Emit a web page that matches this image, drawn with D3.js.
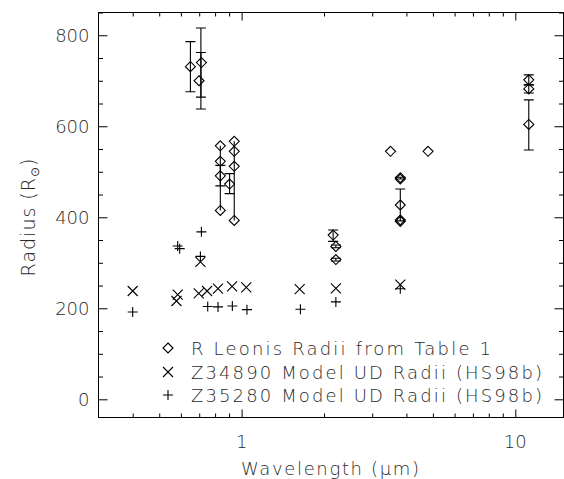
<!DOCTYPE html>
<html>
<head>
<meta charset="utf-8">
<script src="https://cdn.jsdelivr.net/npm/d3@7"></script>
<style>
  html, body { margin: 0; padding: 0; background: #fff; }
  svg { display: block; }
  text { font-family: "DejaVu Sans", sans-serif; font-weight: 300; fill: #2a2a2a; }
</style>
</head>
<body>
<svg width="564" height="479"></svg>
<script>
// R Leonis radii (Table 1): wavelength [um], radius [Rsun]
const leoWave   = [0.65, 0.713, 0.699, 0.836, 0.836, 0.836, 0.836, 0.904, 0.94, 0.94, 0.94, 0.94,
                   2.16, 2.21, 2.21, 3.50, 3.80, 3.80, 3.80, 3.80, 3.80, 4.80, 11.2, 11.2, 11.2];
const leoRadius = [731, 740, 700, 557, 523, 491, 415, 473, 567, 545, 512, 393,
                   361, 336, 307, 545, 487, 484, 427, 394, 391, 545, 702, 682, 604];

// error bars: wavelength, low, high
const errWave = [0.65, 0.71, 0.71, 0.836, 0.904, 2.16, 2.21, 2.21, 3.80, 3.80, 11.2, 11.2, 11.2];
const errLow  = [676, 664, 638, 469, 452, 347, 333, 304, 392, 484, 691, 673, 548];
const errHigh = [786, 816, 762, 514, 496, 372, 339, 310, 462, 488, 713, 691, 658];

// range lines (no caps) spanning several measurements
const rangeWave = [0.836, 0.94];
const rangeLow  = [415, 393];
const rangeHigh = [557, 567];

// Z34890 model UD radii (HS98b)
const z348Wave   = [0.40, 0.584, 0.578, 0.697, 0.707, 0.748, 0.82, 0.923, 1.04, 1.63, 2.21, 3.80];
const z348Radius = [238, 230, 216, 233, 302, 238, 243, 248, 246, 242, 244, 252];

// Z35280 model UD radii (HS98b)
const z352Wave   = [0.40, 0.584, 0.594, 0.707, 0.713, 0.752, 0.82, 0.925, 1.046, 1.64, 2.21, 3.80];
const z352Radius = [192, 337, 331, 314, 368, 204, 203, 205, 197, 198, 214, 243];

const xMajor = [1, 10];
const xMinor = [0.4, 0.5, 0.6, 0.7, 0.8, 0.9, 2, 3, 4, 5, 6, 7, 8, 9];
const yMajor = [0, 200, 400, 600, 800];
const yMinor = [50, 100, 150, 250, 300, 350, 450, 500, 550, 650, 700, 750, 850];

const legendLabels = ["R Leonis Radii from Table 1",
                      "Z34890 Model UD Radii (HS98b)",
                      "Z35280 Model UD Radii (HS98b)"];

const svg = d3.select('svg');
const margin = {top: 12.5, bottom: 61.5, left: 98.5, right: 0.5};
const width = 564, height = 479;
const innerWidth = width - margin.left - margin.right;
const innerHeight = height - margin.top - margin.bottom;

const x = d3.scaleLog().domain([0.3, 15]).range([0, innerWidth]);
const y = d3.scaleLinear().domain([-40, 850]).range([innerHeight, 0]);

const g = svg.append('g')
    .attr('transform', 'translate(' + margin.left + ',' + margin.top + ')');

// frame
g.append('rect')
    .attr('width', innerWidth).attr('height', innerHeight)
    .attr('fill', 'none').attr('stroke', '#000').attr('stroke-width', 1);

// inward ticks on all four sides, no labels from the axis itself
function tickAxis(axis, values, size, pos) {
    const a = g.append('g')
        .attr('transform', pos)
        .call(axis.tickValues(values).tickSize(-size).tickFormat(''));
    a.select('.domain').remove();
    a.selectAll('text').remove();
    a.selectAll('line').attr('stroke', '#000');
}

tickAxis(d3.axisBottom(x), xMajor, 8, 'translate(0,' + innerHeight + ')');
tickAxis(d3.axisBottom(x), xMinor, 4, 'translate(0,' + innerHeight + ')');
tickAxis(d3.axisTop(x), xMajor, 8, 'translate(0,0)');
tickAxis(d3.axisTop(x), xMinor, 4, 'translate(0,0)');
tickAxis(d3.axisLeft(y), yMajor, 9, 'translate(0,0)');
tickAxis(d3.axisLeft(y), yMinor, 4.5, 'translate(0,0)');
tickAxis(d3.axisRight(y), yMajor, 9, 'translate(' + innerWidth + ',0)');
tickAxis(d3.axisRight(y), yMinor, 4.5, 'translate(' + innerWidth + ',0)');

// tick labels
g.selectAll('.xlab').data(xMajor).enter().append('text')
    .attr('x', d => x(d)).attr('y', innerHeight + 30.5)
    .attr('text-anchor', 'middle').attr('font-size', 18)
    .text(d => d);
g.selectAll('.ylab').data(yMajor).enter().append('text')
    .attr('x', -9).attr('y', d => y(d) + 6.5)
    .attr('text-anchor', 'end').attr('font-size', 18)
    .text(d => d);

// marker paths
const r = 5;
function diamond(cx, cy) { return 'M' + cx + ',' + (cy - r) + 'L' + (cx + r) + ',' + cy + 'L' + cx + ',' + (cy + r) + 'L' + (cx - r) + ',' + cy + 'Z'; }
function cross(cx, cy) { return 'M' + (cx - r) + ',' + (cy - r) + 'L' + (cx + r) + ',' + (cy + r) + 'M' + (cx - r) + ',' + (cy + r) + 'L' + (cx + r) + ',' + (cy - r); }
function plus(cx, cy) { return 'M' + (cx - r) + ',' + cy + 'L' + (cx + r) + ',' + cy + 'M' + cx + ',' + (cy - r) + 'L' + cx + ',' + (cy + r); }

const marks = g.append('g').attr('fill', 'none').attr('stroke', '#000').attr('stroke-width', 1.1);

// range lines
marks.selectAll('.range').data(rangeWave).enter().append('line')
    .attr('x1', d => x(d)).attr('x2', d => x(d))
    .attr('y1', (d, i) => y(rangeLow[i])).attr('y2', (d, i) => y(rangeHigh[i]));

// error bars
const cap = 5;
marks.selectAll('.err').data(errWave).enter().append('path')
    .attr('d', (d, i) => {
        const cx = x(d), lo = y(errLow[i]), hi = y(errHigh[i]);
        return 'M' + cx + ',' + lo + 'L' + cx + ',' + hi +
               'M' + (cx - cap) + ',' + lo + 'L' + (cx + cap) + ',' + lo +
               'M' + (cx - cap) + ',' + hi + 'L' + (cx + cap) + ',' + hi;
    });

marks.selectAll('.leo').data(leoWave).enter().append('path')
    .attr('d', (d, i) => diamond(x(d), y(leoRadius[i])));
marks.selectAll('.z348').data(z348Wave).enter().append('path')
    .attr('d', (d, i) => cross(x(d), y(z348Radius[i])));
marks.selectAll('.z352').data(z352Wave).enter().append('path')
    .attr('d', (d, i) => plus(x(d), y(z352Radius[i])));

// legend
const legendX = 168 - margin.left, legendY = [348, 372, 395].map(v => v - margin.top);
const legendShapes = [diamond, cross, plus];
const legendWidths = [300, 351, 351];
legendLabels.forEach((lab, i) => {
    marks.append('path').attr('d', legendShapes[i](legendX, legendY[i]));
    g.append('text')
        .attr('x', legendX + 23).attr('y', legendY[i] + 6.5)
        .attr('font-size', 18)
        .attr('textLength', legendWidths[i]).attr('lengthAdjust', 'spacing')
        .text(lab);
});

// axis titles
svg.append('text')
    .attr('x', 330).attr('y', 475)
    .attr('text-anchor', 'middle').attr('font-size', 18)
    .attr('textLength', 178).attr('lengthAdjust', 'spacing')
    .text('Wavelength (\u03BCm)');

const yt = svg.append('text')
    .attr('transform', 'translate(35,217) rotate(-90)')
    .attr('text-anchor', 'middle').attr('font-size', 19)
    .attr('letter-spacing', 1);
yt.append('tspan').text('Radius (R');
yt.append('tspan').attr('font-size', 12).attr('dy', 4).text('\u2299');
yt.append('tspan').attr('dy', -4).text(')');
</script>
</body>
</html>
